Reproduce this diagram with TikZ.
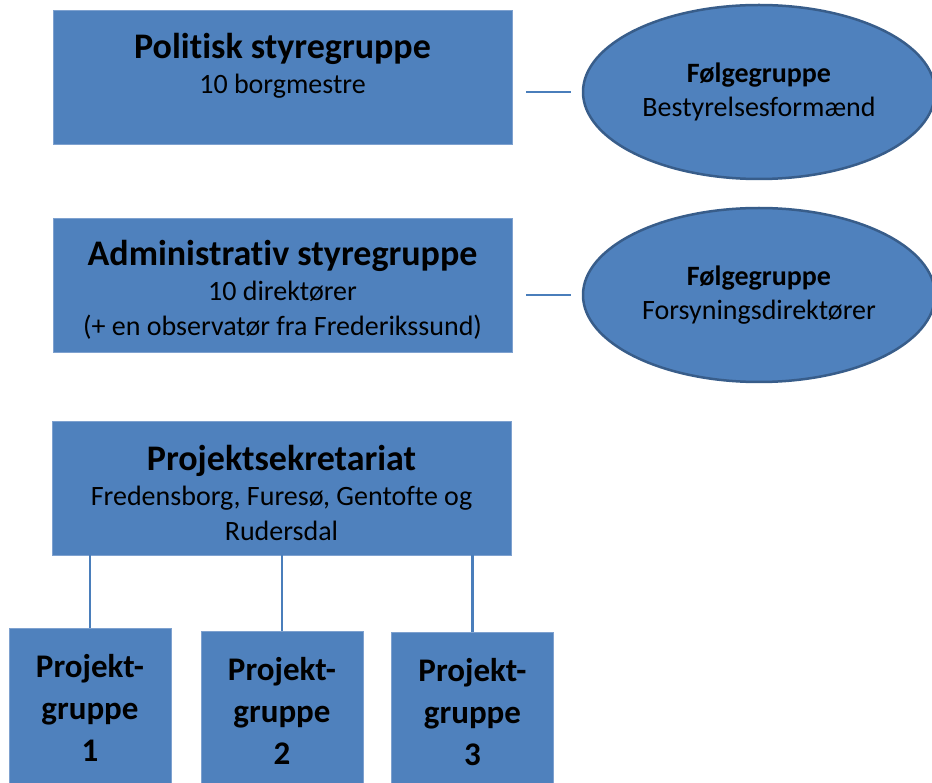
\documentclass[tikz,border=0pt]{standalone}
\usepackage{fontspec}
\setmainfont[Ligatures=NoCommon]{Carlito}
\usepackage{xcolor}
\definecolor{boxfill}{HTML}{4F81BD}
\definecolor{boxline}{HTML}{7EA1CF}
\definecolor{ovalline}{HTML}{385D8A}
\definecolor{linkblue}{HTML}{4A7EBB}
\usetikzlibrary{shapes.geometric}
\newcommand{\grouptitle}[1]{{\fontsize{36}{40}\selectfont\bfseries\rule{0pt}{35pt}#1}}

\begin{document}
\begin{tikzpicture}[x=1pt,y=-1pt,
  groupbox/.style={draw=boxline, line width=0.8pt, fill=boxfill, minimum width=459pt,
    minimum height=134pt, align=center, inner sep=2pt, font=\fontsize{28}{35}\selectfont},
  follower/.style={ellipse, draw=ovalline, line width=2.5pt, fill=boxfill, minimum width=352pt,
    minimum height=174pt, align=center, inner sep=0pt, font=\fontsize{28}{34}\selectfont},
  projbox/.style={draw=boxline, line width=0.8pt, fill=boxfill, minimum width=162pt,
    minimum height=160pt, align=center, font=\fontsize{33}{42}\selectfont\bfseries},
  link/.style={draw=linkblue, line width=2.2pt}]
  \useasboundingbox (0,0) rectangle (932,783);
  % steering groups
  \node[groupbox] (politisk) at (282.5,77.5) {\grouptitle{Politisk styregruppe}\\10 borgmestre\\[-8pt]\strut};
  \node[groupbox] (admin) at (282.5,285) {\grouptitle{Administrativ styregruppe}\\10 direktører\\(+ en observatør fra Frederikssund)};
  \node[groupbox] (sekretariat) at (281.5,488) {\grouptitle{Projektsekretariat}\\Fredensborg, Furesø, Gentofte og\\Rudersdal};
  % follow groups
  \node[follower] (folg1) at (759,92) {\textbf{Følgegruppe}\\Bestyrelsesformænd};
  \node[follower] (folg2) at (759,295) {\textbf{Følgegruppe}\\Forsyningsdirektører};
  \draw[link, shorten <=14pt, shorten >=11pt] (politisk.east |- folg1.center) -- (folg1.west);
  \draw[link, shorten <=14pt, shorten >=11pt] (admin.east |- folg2.center) -- (folg2.west);
  % project groups
  \foreach \x/\y/\n in {90/708/1,282/711/2,472.5/712/3}{
    \node[projbox] (proj\n) at (\x,\y) {Projekt-\\gruppe\\\n};
    \draw[link] (proj\n.north) -- (proj\n.north |- sekretariat.south);
  }
\end{tikzpicture}
\end{document}
